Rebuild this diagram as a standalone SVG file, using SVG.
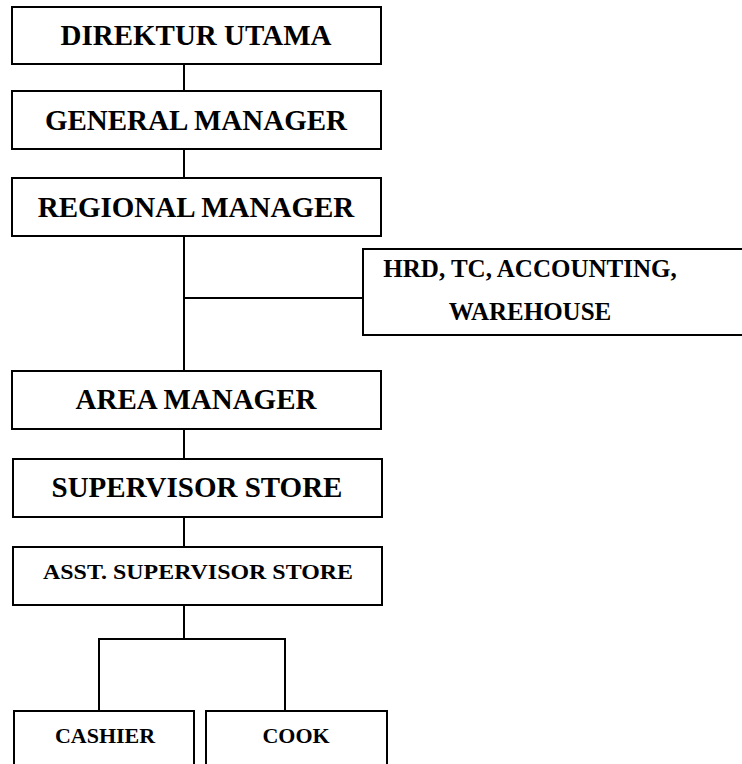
<svg xmlns="http://www.w3.org/2000/svg" width="742" height="764" viewBox="0 0 742 764">
<style>
rect{fill:#fff;stroke:#000;stroke-width:2}
line,path{stroke:#000;stroke-width:2;fill:none}
text{font-family:"Liberation Serif","Times New Roman",serif;font-weight:bold;text-anchor:middle;fill:#000}
.l{font-size:29px}
.m{font-size:25px}
.s{font-size:22px}
</style>
<rect width="742" height="764" style="fill:#fff;stroke:none"/>
<g id="connectors">
<line x1="184" y1="64" x2="184" y2="91"/>
<line x1="184" y1="149" x2="184" y2="178"/>
<line x1="184" y1="236" x2="184" y2="371"/>
<line x1="184" y1="298" x2="363" y2="298"/>
<line x1="184" y1="429" x2="184" y2="459"/>
<line x1="184" y1="517" x2="184" y2="547"/>
<line x1="184" y1="605" x2="184" y2="639"/>
<path d="M99 711V639H285V711"/>
</g>
<g id="direktur"><rect x="12" y="7" width="369" height="57"/><text class="l" x="196" y="45">DIREKTUR UTAMA</text></g>
<g id="gm"><rect x="12" y="91" width="369" height="58"/><text class="l" x="196" y="130">GENERAL MANAGER</text></g>
<g id="rm"><rect x="12" y="178" width="369" height="58"/><text class="l" x="196" y="217">REGIONAL MANAGER</text></g>
<g id="hrd"><rect x="363" y="249" width="390" height="86"/><text class="m" x="530" y="277">HRD, TC, ACCOUNTING,</text><text class="m" x="530" y="320">WAREHOUSE</text></g>
<g id="am"><rect x="12" y="371" width="369" height="58"/><text class="l" x="196" y="409">AREA MANAGER</text></g>
<g id="ss"><rect x="13" y="459" width="369" height="58"/><text class="l" x="197" y="497">SUPERVISOR STORE</text></g>
<g id="ass"><rect x="13" y="547" width="369" height="58"/><text class="s" x="198" y="579" textLength="310" lengthAdjust="spacingAndGlyphs">ASST. SUPERVISOR STORE</text></g>
<g id="cashier"><rect x="14" y="711" width="180" height="60"/><text class="s" x="105" y="743">CASHIER</text></g>
<g id="cook"><rect x="206" y="711" width="181" height="60"/><text class="s" x="296" y="743">COOK</text></g>
</svg>
